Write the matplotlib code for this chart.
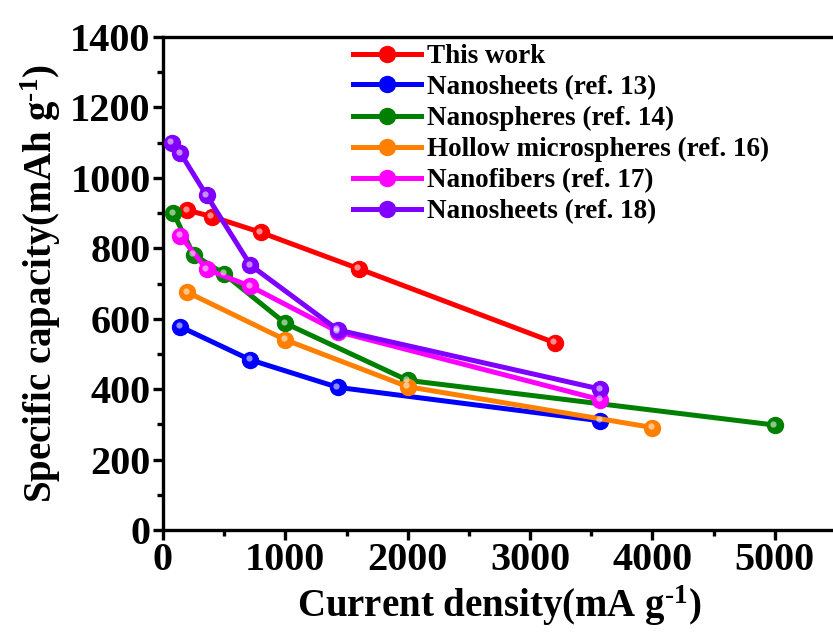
import matplotlib
matplotlib.use('Agg')
import matplotlib.pyplot as plt
from matplotlib.transforms import offset_copy

plt.rcParams['font.family'] = 'Liberation Serif'
plt.rcParams['font.weight'] = 'bold'
plt.rcParams['axes.labelweight'] = 'bold'
plt.rcParams['mathtext.fontset'] = 'custom'
plt.rcParams['mathtext.rm'] = 'Liberation Serif:bold'
plt.rcParams['mathtext.default'] = 'rm'

# data
this_x = [200, 400, 800, 1600, 3200]
this_y = [908, 890, 845, 742, 532]
ref13_x = [143, 715, 1430, 3575]
ref13_y = [577, 483, 405, 310]
ref14_x = [85, 250, 500, 1000, 2000, 5000]
ref14_y = [900, 782, 727, 587, 425, 298]
ref16_x = [200, 1000, 2000, 4000]
ref16_y = [675, 540, 407, 291]
ref17_x = [143, 357, 715, 1430, 3575]
ref17_y = [835, 740, 692, 563, 370]
ref18_x = [72, 143, 357, 715, 1430, 3575]
ref18_y = [1100, 1070, 950, 752, 568, 400]

series = [
    (this_x, this_y, '#FF0000', 'This work'),
    (ref13_x, ref13_y, '#0000FF', 'Nanosheets (ref. 13)'),
    (ref14_x, ref14_y, '#008000', 'Nanospheres (ref. 14)'),
    (ref16_x, ref16_y, '#FF8000', 'Hollow microspheres (ref. 16)'),
    (ref17_x, ref17_y, '#FF00FF', 'Nanofibers (ref. 17)'),
    (ref18_x, ref18_y, '#8000FF', 'Nanosheets (ref. 18)'),
]

fig = plt.figure(figsize=(8.33, 6.42), dpi=100)
ax = fig.add_axes([163 / 833, 112 / 642, 673 / 833, 493 / 642])

# shine on the balls, shifted up-left a bit
shine = offset_copy(ax.transData, fig=fig, x=-1.5, y=1.5, units='dots')

handles = []
labels = []
for x, y, c, lab in series:
    ln, = ax.plot(x, y, '-o', color=c, lw=3.6, ms=11.5, mec=c, zorder=3)
    ax.plot(x, y, 'o', color='white', alpha=0.55, ms=4.5, mec='none',
            transform=shine, zorder=4)
    handles.append(ln)
    labels.append(lab)

ax.set_xlim(0, 5500)
ax.set_ylim(0, 1400)
ax.set_xticks([0, 1000, 2000, 3000, 4000, 5000])
ax.set_xticks(range(500, 5500, 1000), minor=True)
ax.set_yticks(range(0, 1401, 200))
ax.set_yticks(range(100, 1400, 200), minor=True)

for s in ax.spines.values():
    s.set_linewidth(2.4)
ax.tick_params(which='major', direction='out', length=7, width=2.4, labelsize=29, pad=2)
ax.tick_params(which='minor', direction='out', length=4.5, width=2.4)
ax.tick_params(top=False, right=False)

ax.set_xlabel(r'Current density(mA g$^{\text{-}1}$)', fontsize=28, labelpad=3)
ax.set_ylabel(r'Specific capacity(mAh g$^{\text{-}1}$)', fontsize=28, labelpad=5)

ax.legend(handles, labels, loc='upper left', bbox_to_anchor=(353 / 833, 1 - 44 / 642),
          bbox_transform=fig.transFigure, frameon=False, fontsize=19.5,
          handlelength=2.5, handletextpad=0.25, labelspacing=0.22,
          borderpad=0, borderaxespad=0)

fig.savefig('out.png', dpi=100)
